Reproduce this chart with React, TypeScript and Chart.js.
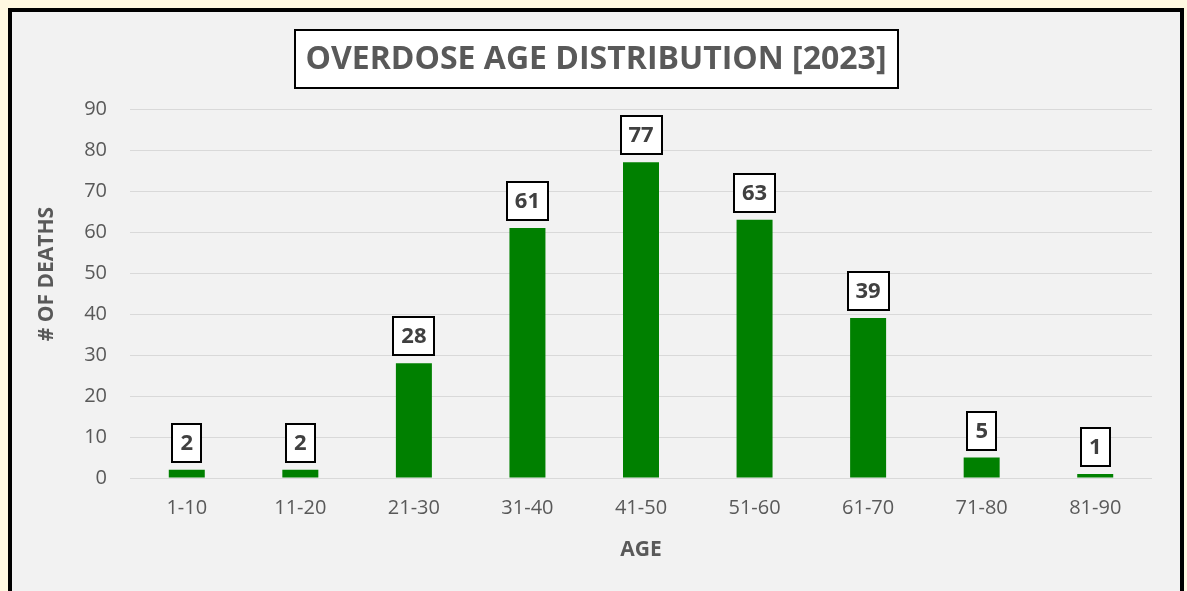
import React, { useEffect, useRef } from "react";
import { Chart, registerables } from "chart.js";

Chart.register(...registerables);

const categories = ["1-10", "11-20", "21-30", "31-40", "41-50", "51-60", "61-70", "71-80", "81-90"];
const deaths = [2, 2, 28, 61, 77, 63, 39, 5, 1];
const yMin = 0;
const yMax = 90;
const yStep = 10;
const chartTitle = "OVERDOSE AGE DISTRIBUTION [2023]";
const xAxisTitle = "AGE";
const yAxisTitle = "# OF DEATHS";

const FONT = "'Open Sans', sans-serif";
const CANVAS_W = 1168;
const CANVAS_H = 579;

const decorPlugin = {
  id: "decor",
  afterDatasetsDraw(chart: any) {
    const ctx = chart.ctx as CanvasRenderingContext2D;
    const meta = chart.getDatasetMeta(0);
    ctx.save();
    // data labels
    ctx.font = `bold 22px ${FONT}`;
    ctx.textAlign = "center";
    ctx.textBaseline = "middle";
    meta.data.forEach((bar: any, i: number) => {
      const label = String(deaths[i]);
      const w = Math.round(ctx.measureText(label).width + 16);
      const h = 38;
      const x = Math.round(bar.x - w / 2);
      const y = Math.round(bar.y - 8 - h);
      ctx.fillStyle = "#ffffff";
      ctx.fillRect(x, y, w, h);
      ctx.lineWidth = 2;
      ctx.strokeStyle = "#000000";
      ctx.strokeRect(x, y, w, h);
      ctx.fillStyle = "#404040";
      ctx.fillText(label, bar.x, y + h / 2 + 1);
    });

    // chart title with box
    ctx.font = `bold 32px ${FONT}`;
    const tw = ctx.measureText(chartTitle).width;
    const bw = Math.round(tw + 22);
    const bh = 58;
    const cx = chart.width / 2;
    const cy = 47;
    const bx = Math.round(cx - bw / 2);
    const by = Math.round(cy - bh / 2);
    ctx.fillStyle = "#ffffff";
    ctx.fillRect(bx, by, bw, bh);
    ctx.lineWidth = 2;
    ctx.strokeStyle = "#000000";
    ctx.strokeRect(bx, by, bw, bh);
    ctx.fillStyle = "#595959";
    ctx.fillText(chartTitle, cx, cy + 1);

    // axis titles
    ctx.font = `bold 21px ${FONT}`;
    ctx.fillStyle = "#595959";
    const area = chart.chartArea;
    ctx.fillText(xAxisTitle, (area.left + area.right) / 2, 538);
    ctx.save();
    ctx.translate(35, 262);
    ctx.rotate(-Math.PI / 2);
    ctx.fillText(yAxisTitle, 0, 0);
    ctx.restore();

    ctx.restore();
  },
};

export default function App() {
  const canvasRef = useRef<HTMLCanvasElement | null>(null);

  useEffect(() => {
    if (!canvasRef.current) return;
    const chart = new Chart(canvasRef.current, {
      type: "bar",
      data: {
        labels: categories,
        datasets: [
          {
            data: deaths,
            backgroundColor: "#008000",
            borderWidth: 0,
            categoryPercentage: 1,
            barPercentage: 0.317,
          },
        ],
      },
      options: {
        animation: false,
        responsive: false,
        maintainAspectRatio: false,
        layout: { padding: { top: 97, left: 0, right: 28, bottom: 0 } },
        plugins: {
          legend: { display: false },
          title: { display: false },
          tooltip: { enabled: false },
        },
        scales: {
          x: {
            grid: { display: false, drawTicks: false },
            border: { display: false },
            ticks: {
              color: "#595959",
              font: { family: FONT, size: 20 },
              padding: 18,
            },
            afterFit(scale: any) {
              scale.height = 113;
            },
          },
          y: {
            min: yMin,
            max: yMax,
            grid: { color: "#d9d9d9", lineWidth: 1, drawTicks: false },
            border: { display: false },
            ticks: {
              stepSize: yStep,
              color: "#595959",
              font: { family: FONT, size: 20 },
              padding: 23,
            },
            afterFit(scale: any) {
              scale.width = 118;
            },
          },
        },
      },
      plugins: [decorPlugin],
    });
    return () => chart.destroy();
  }, []);

  return (
    <div style={{ position: "fixed", inset: 0, background: "#fff8e1", overflow: "hidden" }}>
      <div
        style={{
          position: "absolute",
          left: 8,
          top: 8,
          width: CANVAS_W,
          height: 620,
          border: "4px solid #000",
          background: "#f2f2f2",
        }}
      >
        <canvas
          ref={canvasRef}
          width={CANVAS_W}
          height={CANVAS_H}
          style={{ display: "block", width: CANVAS_W, height: CANVAS_H }}
        />
      </div>
    </div>
  );
}
